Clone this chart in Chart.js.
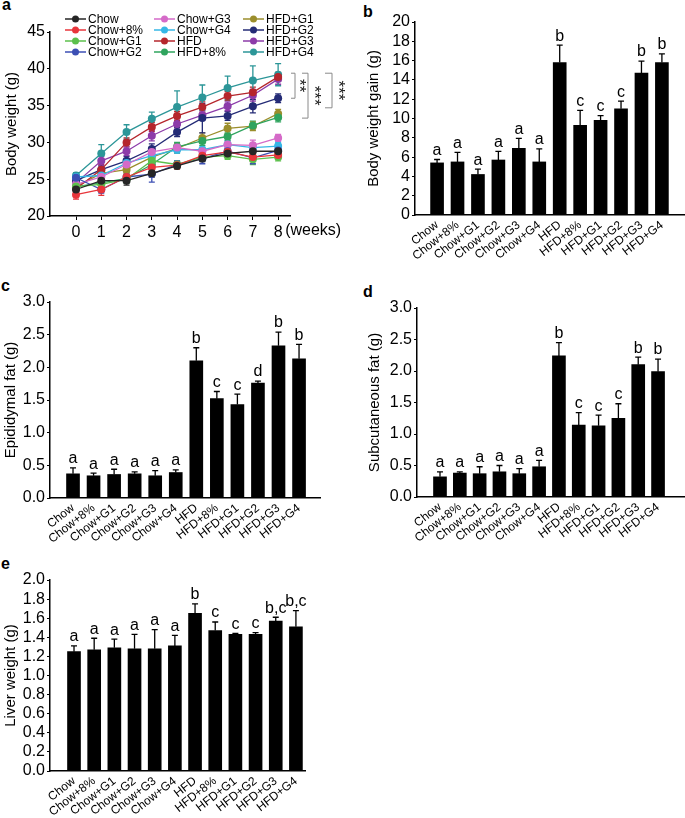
<!DOCTYPE html>
<html>
<head>
<meta charset="utf-8">
<script src="https://cdn.jsdelivr.net/npm/chart.js@4.4.1/dist/chart.umd.min.js"></script>
<style>
body{margin:0;background:#fff;width:685px;height:818px;position:relative;overflow:hidden;font-family:"Liberation Sans",Arial,sans-serif}
canvas{position:absolute}
.tag{position:absolute;font-weight:bold;font-size:16px;line-height:16px}
</style>
</head>
<body>
<div class="tag" style="left:2px;top:-3px">a</div>
<div class="tag" style="left:363px;top:4px">b</div>
<div class="tag" style="left:1px;top:278px">c</div>
<div class="tag" style="left:363px;top:284px">d</div>
<div class="tag" style="left:1px;top:556px">e</div>

<canvas id="chartA" width="345" height="245" style="left:0;top:0"></canvas>
<canvas id="chartB" width="345" height="275" style="left:340px;top:0"></canvas>
<canvas id="chartC" width="340" height="275" style="left:0;top:280px"></canvas>
<canvas id="chartD" width="345" height="275" style="left:340px;top:280px"></canvas>
<canvas id="chartE" width="400" height="258" style="left:0;top:560px"></canvas>

<script>
// groups and colours
const groups = ["Chow","Chow+8%","Chow+G1","Chow+G2","Chow+G3","Chow+G4","HFD","HFD+8%","HFD+G1","HFD+G2","HFD+G3","HFD+G4"];
const lineColors = ["#262626","#e8353b","#5cc04c","#3c4fb4","#d56ac8","#36b7e6","#b5262c","#2fa45e","#9b8e2c","#242b76","#8c3ba9","#2c9698"];
const weeks = [0,1,2,3,4,5,6,7,8];

// panel a: body weight (g) per week
const wChow    = [23.6,24.8,24.8,25.8,26.8,27.8,28.5,28.8,28.8];
const wChow8   = [22.9,23.6,25.3,26.6,26.9,28.2,28.7,28.0,28.3];
const wChowG1  = [24.0,24.3,25.0,27.5,27.0,28.0,28.2,27.7,28.0];
const wChowG2  = [25.2,23.6,25.3,25.7,27.0,27.8,28.8,27.9,28.9];
const wChowG3  = [24.3,25.3,27.0,28.7,29.3,28.8,29.7,29.6,30.6];
const wChowG4  = [25.3,25.5,27.2,28.2,29.0,29.0,29.7,29.3,29.5];
const wHFD     = [23.7,26.3,30.0,32.1,33.6,34.8,36.3,36.8,38.9];
const wHFD8    = [24.0,24.5,25.1,27.0,29.4,30.2,30.8,32.3,33.4];
const wHFDG1   = [24.0,25.8,26.3,28.0,29.2,30.6,31.9,32.2,33.9];
const wHFDG2   = [24.8,26.3,27.5,29.1,31.4,33.3,33.6,34.9,36.0];
const wHFDG3   = [24.5,27.5,28.8,30.9,32.5,33.7,34.9,36.4,38.6];
const wHFDG4   = [25.5,28.5,31.4,33.2,34.8,36.1,37.4,38.4,39.2];
const bodyWeight = [wChow,wChow8,wChowG1,wChowG2,wChowG3,wChowG4,wHFD,wHFD8,wHFDG1,wHFDG2,wHFDG3,wHFDG4];
const bodyWeightErr = [
  [0.3,0.5,0.6,0.5,0.4,0.4,0.4,0.5,0.5],
  [0.6,0.8,0.6,0.6,0.5,0.5,0.5,0.6,0.6],
  [0.4,0.5,0.5,0.6,0.5,0.5,0.5,0.7,0.5],
  [0.5,0.5,0.7,1.1,0.5,0.7,0.6,0.8,0.6],
  [0.4,0.6,0.6,0.6,0.5,0.5,0.5,0.7,0.5],
  [0.4,0.6,0.6,0.6,0.5,0.5,0.5,0.5,0.5],
  [0.5,0.7,0.6,0.6,0.6,0.7,0.6,0.7,0.6],
  [0.4,0.5,0.6,0.6,0.6,0.6,0.5,0.6,0.6],
  [0.4,0.5,0.5,0.6,0.6,0.7,0.7,0.6,0.6],
  [0.4,0.5,0.6,0.7,0.6,2.0,0.6,0.9,0.6],
  [0.4,0.6,0.6,0.7,0.7,0.6,0.6,0.8,0.7],
  [0.4,1.2,1.0,0.9,2.2,1.7,1.6,2.0,1.5]
];
// significance brackets at week 8: [from, to, label]
const brackets = [[39.4,36.0,"**"],[39.4,33.3,"***"],[39.4,34.7,"***"]];

// panel b: body weight gain
const gainMean = [5.4,5.5,4.2,5.7,6.9,5.5,15.8,9.3,9.8,11.0,14.7,15.8];
const gainErr  = [0.35,1.0,0.55,0.9,1.05,1.35,1.8,1.55,0.5,0.8,1.25,0.9];
const gainLetters = ["a","a","a","a","a","a","b","c","c","c","b","b"];

// panel c: epididymal fat
const epiMean = [0.37,0.34,0.36,0.37,0.34,0.39,2.10,1.52,1.43,1.76,2.33,2.13];
const epiErr  = [0.09,0.04,0.08,0.03,0.08,0.04,0.20,0.11,0.16,0.03,0.21,0.22];
const epiLetters = ["a","a","a","a","a","a","b","c","c","d","b","b"];

// panel d: subcutaneous fat
const subMean = [0.32,0.38,0.37,0.40,0.37,0.48,2.24,1.14,1.13,1.25,2.10,1.99];
const subErr  = [0.08,0.02,0.11,0.10,0.08,0.10,0.21,0.20,0.17,0.23,0.12,0.20];
const subLetters = ["a","a","a","a","a","a","b","c","c","c","b","b"];

// panel e: liver weight
const liverMean = [1.25,1.27,1.29,1.28,1.28,1.31,1.65,1.47,1.43,1.43,1.57,1.51];
const liverErr  = [0.06,0.12,0.09,0.15,0.20,0.11,0.10,0.09,0.01,0.02,0.04,0.17];
const liverLetters = ["a","a","a","a","a","a","b","c","c","c","b,c","b,c"];

const FONT = '"Liberation Sans", Arial, sans-serif';
Chart.defaults.font.family = FONT;
Chart.defaults.color = "#000";
Chart.defaults.animation = false;

// error bars (lines: both sides, under the points; bars: up only, with letters)
function drawErrors(chart, both){
  const ctx = chart.ctx, y = chart.scales.y;
  chart.data.datasets.forEach((ds, di) => {
    if(!ds.errors || !!ds.errorBoth !== both) return;
    const meta = chart.getDatasetMeta(di);
    ctx.save();
    ctx.strokeStyle = ds.errorColor || ds.borderColor;
    ctx.lineWidth = 1.3;
    ctx.fillStyle = "#000";
    ctx.font = "16px " + FONT;
    ctx.textAlign = "center";
    ctx.textBaseline = "bottom";
    meta.data.forEach((el, i) => {
      const v = meta.controller.getParsed(i).y;
      const e = ds.errors[i];
      const top = y.getPixelForValue(v + e);
      const bot = y.getPixelForValue(both ? v - e : v);
      ctx.beginPath();
      ctx.moveTo(el.x, bot); ctx.lineTo(el.x, top);
      ctx.moveTo(el.x - 3, top); ctx.lineTo(el.x + 3, top);
      if(both){ ctx.moveTo(el.x - 3, bot); ctx.lineTo(el.x + 3, bot); }
      ctx.stroke();
      if(ds.letters) ctx.fillText(ds.letters[i], el.x, top - 1);
    });
    ctx.restore();
  });
}
const errorBars = {
  id: "errorBars",
  beforeDatasetsDraw(chart){ drawErrors(chart, true); },
  afterDatasetsDraw(chart){ drawErrors(chart, false); }
};

// legend in 3 columns of 4, like the figure
const gridLegend = {
  id: "gridLegend",
  afterDraw(chart){
    const ctx = chart.ctx;
    ctx.save();
    ctx.font = "12px " + FONT;
    ctx.textBaseline = "middle";
    chart.data.datasets.forEach((ds, i) => {
      const col = Math.floor(i / 4), row = i % 4;
      const x = 65 + col * 89, y = 19 + row * 11;
      ctx.strokeStyle = ds.borderColor;
      ctx.lineWidth = 1.5;
      ctx.beginPath(); ctx.moveTo(x, y); ctx.lineTo(x + 21, y); ctx.stroke();
      ctx.fillStyle = ds.borderColor;
      ctx.beginPath(); ctx.arc(x + 10.5, y, 3.5, 0, Math.PI * 2); ctx.fill();
      ctx.fillStyle = "#000";
      ctx.fillText(ds.label, x + 23, y + 0.5);
    });
    ctx.restore();
  }
};

// "(weeks)" and the significance brackets
const weekExtras = {
  id: "weekExtras",
  afterDraw(chart){
    const ctx = chart.ctx, x = chart.scales.x, y = chart.scales.y, area = chart.chartArea;
    ctx.save();
    ctx.font = "16px " + FONT;
    ctx.fillStyle = "#000";
    ctx.textBaseline = "top";
    ctx.fillText("(weeks)", x.getPixelForValue(weeks[weeks.length - 1]) + 7, area.bottom + 7);
    const spots = [[1, 5, 9], [12, 18, 24], [35, 42, 48]];
    brackets.forEach(([a, b, label], k) => {
      const [x0, x1, xt] = spots[k].map(d => area.right + d);
      const ya = y.getPixelForValue(a), yb = y.getPixelForValue(b);
      ctx.strokeStyle = "#8a8a8a"; ctx.lineWidth = 1;
      ctx.beginPath();
      ctx.moveTo(x0, ya); ctx.lineTo(x1, ya); ctx.lineTo(x1, yb); ctx.lineTo(x0, yb);
      ctx.stroke();
      ctx.save();
      ctx.translate(xt, (ya + yb) / 2);
      ctx.rotate(Math.PI / 2);
      ctx.font = "17px " + FONT;
      ctx.fillStyle = "#222";
      ctx.textAlign = "center"; ctx.textBaseline = "middle";
      ctx.fillText(label, 0, 0);
      ctx.restore();
    });
    ctx.restore();
  }
};

function yAxis(title, min, max, step, dec, width){
  return {
    min: min, max: max,
    ticks: { stepSize: step, autoSkip: false, font: { size: 16 }, padding: 2, callback: v => v.toFixed(dec) },
    grid: { display: true, drawOnChartArea: false, tickLength: 3, color: "#000" },
    border: { color: "#000", width: 1.5 },
    title: { display: true, text: title, font: { size: 15 }, padding: { top: 1, bottom: 0 } },
    afterFit: s => { s.width = width; }
  };
}

// panel a
new Chart(document.getElementById("chartA"), {
  type: "line",
  data: {
    datasets: groups.map((g, i) => ({
      label: g,
      data: weeks.map((w, j) => ({ x: w, y: bodyWeight[i][j] })),
      borderColor: lineColors[i],
      backgroundColor: lineColors[i],
      borderWidth: 1.3,
      pointRadius: 4,
      pointBorderWidth: 0,
      errors: bodyWeightErr[i],
      errorBoth: true
    }))
  },
  options: {
    responsive: false,
    layout: { padding: { left: 2, top: 32, right: 55, bottom: 0 } },
    plugins: { legend: { display: false }, tooltip: { enabled: false } },
    scales: {
      x: {
        type: "linear", min: -1.03, max: 8.47,
        afterBuildTicks: s => { s.ticks = weeks.map(w => ({ value: w })); },
        ticks: { font: { size: 16 }, padding: 3 },
        grid: { display: true, drawOnChartArea: false, tickLength: 4, color: "#000" },
        border: { color: "#000", width: 1.5 },
        afterFit: s => { s.height = 29; }
      },
      y: yAxis("Body weight (g)", 20, 45, 5, 0, 48)
    }
  },
  plugins: [errorBars, gridLegend, weekExtras]
});

function barPanel(id, means, errs, letters, title, yMax, yStep, dec, box){
  new Chart(document.getElementById(id), {
    type: "bar",
    data: {
      datasets: [{
        data: means.map((m, i) => ({ x: i, y: m })),
        backgroundColor: "#000",
        borderColor: "#000",
        borderWidth: 0,
        barThickness: 13,
        errors: errs,
        letters: letters
      }]
    },
    options: {
      responsive: false,
      layout: { padding: { left: box.pl, top: box.pt, right: box.pr, bottom: 0 } },
      plugins: { legend: { display: false }, tooltip: { enabled: false } },
      scales: {
        x: {
          type: "linear", min: box.xmin, max: box.xmax, offset: false,
          afterBuildTicks: s => { s.ticks = groups.map((g, i) => ({ value: i })); },
          ticks: { autoSkip: false, minRotation: 38, maxRotation: 38, font: { size: 12 }, padding: 3,
                   callback: v => groups[v] },
          grid: { display: true, offset: false, drawOnChartArea: false, drawTicks: false },
          border: { color: "#000", width: 1.5 },
          afterFit: s => { s.height = box.xh; }
        },
        y: yAxis(title, 0, yMax, yStep, dec, box.yw)
      }
    },
    plugins: [errorBars]
  });
}

barPanel("chartB", gainMean, gainErr, gainLetters, "Body weight gain (g)", 20, 2, 0,
  { pl: 24, pt: 22, pr: 0, yw: 51, xh: 60, xmin: -1.08, xmax: 12.13 });
barPanel("chartC", epiMean, epiErr, epiLetters, "Epididymal fat (g)", 3, 0.5, 1,
  { pl: 1, pt: 22, pr: 20, yw: 49, xh: 57, xmin: -1.12, xmax: 12.02 });
barPanel("chartD", subMean, subErr, subLetters, "Subcutaneous fat (g)", 3, 0.5, 1,
  { pl: 24.5, pt: 28, pr: 0, yw: 52.5, xh: 58, xmin: -1.16, xmax: 12.36 });
barPanel("chartE", liverMean, liverErr, liverLetters, "Liver weight (g)", 2, 0.2, 1,
  { pl: 1, pt: 20, pr: 95, yw: 49, xh: 47, xmin: -1.19, xmax: 11.45 });
</script>
</body>
</html>
